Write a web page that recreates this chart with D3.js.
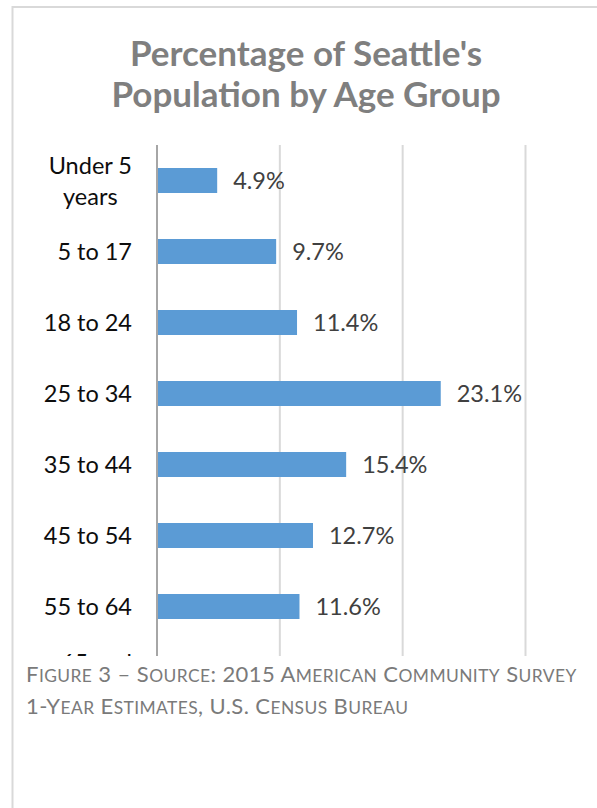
<!DOCTYPE html>
<html>
<head>
<meta charset="utf-8">
<script src="https://cdn.jsdelivr.net/npm/d3@7"></script>
<style>
  html, body { margin: 0; padding: 0; background: #fff; }
  svg { display: block; }
</style>
</head>
<body>
<script>
// Age groups and their share of the city's population (percent)
const categories = ["Under 5 years", "5 to 17", "18 to 24", "25 to 34", "35 to 44", "45 to 54", "55 to 64", "65 and over"];
const values = [4.9, 9.7, 11.4, 23.1, 15.4, 12.7, 11.6, 11.2];
const gridTicks = [0, 10, 20, 30];
const titleLines = ["Percentage of Seattle's", "Population by Age Group"];
const captionLines = ["Figure 3 \u2013 Source: 2015 American Community Survey", "1-Year Estimates, U.S. Census Bureau"];

const W = 597, H = 808;
const FONT = "Lato, 'Open Sans', sans-serif";
const LABEL_SIZE = 23.5;

const svg = d3.select("body").append("svg")
  .attr("width", W).attr("height", H);

// the chart object is cut off where the caption begins
const chartBottom = 656;
svg.append("defs").append("clipPath").attr("id", "chart-clip")
  .append("rect").attr("x", 0).attr("y", 0).attr("width", W).attr("height", chartBottom);

const chart = svg.append("g").attr("clip-path", "url(#chart-clip)");

// chart frame (top edge)
chart.append("line").attr("x1", 12).attr("x2", W).attr("y1", 7).attr("y2", 7)
  .attr("stroke", "#d9d9d9").attr("stroke-width", 2);

// title
chart.append("g").selectAll("text").data(titleLines).join("text")
  .attr("x", 306).attr("y", (d, i) => 66 + i * 41)
  .attr("text-anchor", "middle")
  .attr("font-family", FONT).attr("font-weight", 700).attr("font-size", 35)
  .attr("fill", "#7f7f7f")
  .text(d => d);

const x = d3.scaleLinear().domain([0, 30]).range([157, 525.5]);
const y = d3.scaleBand().domain(categories).range([145, 713])
  .paddingInner(0.648).paddingOuter(0.324);

const plotTop = 145, plotBottom = 748;

// vertical gridlines
chart.append("g").selectAll("line").data(gridTicks.filter(t => t > 0)).join("line")
  .attr("x1", d => x(d)).attr("x2", d => x(d))
  .attr("y1", plotTop).attr("y2", plotBottom)
  .attr("stroke", "#d9d9d9").attr("stroke-width", 2);

// bars
chart.append("g").selectAll("rect").data(values).join("rect")
  .attr("x", x(0))
  .attr("y", (d, i) => y(categories[i]))
  .attr("width", d => x(d) - x(0))
  .attr("height", y.bandwidth())
  .attr("fill", "#5b9bd5");

// category axis line
chart.append("line")
  .attr("x1", x(0)).attr("x2", x(0)).attr("y1", plotTop).attr("y2", plotBottom)
  .attr("stroke", "#a6a6a6").attr("stroke-width", 2);

// value labels (only those that fall inside the visible chart area)
const valueBase = (d, i) => y(categories[i]) + y.bandwidth() / 2 + 8.5;
chart.append("g").selectAll("text")
  .data(values.map((v, i) => ({ v, i })).filter(o => valueBase(o.v, o.i) - 18 < chartBottom))
  .join("text")
  .attr("x", o => x(o.v) + 16)
  .attr("y", o => valueBase(o.v, o.i))
  .attr("font-family", FONT).attr("font-size", LABEL_SIZE)
  .attr("fill", "#404040")
  .text(o => o.v.toFixed(1) + "%");

// category labels, wrapped to a maximum width and right-aligned as a block
const labelRight = 132, maxLabelW = 100, lineGap = 31;
const measure = svg.append("text").attr("font-family", FONT).attr("font-size", LABEL_SIZE);
function textWidth(s) { measure.text(s); return measure.node().getComputedTextLength(); }
function wrap(label) {
  const words = label.split(" ");
  const lines = [];
  let cur = words[0];
  for (let k = 1; k < words.length; k++) {
    const trial = cur + " " + words[k];
    if (textWidth(trial) > maxLabelW) { lines.push(cur); cur = words[k]; }
    else cur = trial;
  }
  lines.push(cur);
  return lines;
}
const labelG = chart.append("g");
categories.forEach(c => {
  const lines = wrap(c);
  const blockW = d3.max(lines, textWidth);
  const cx = labelRight - blockW / 2;
  const cy = y(c) + y.bandwidth() / 2;
  const firstBase = cy + 8.5 - (lines.length - 1) * lineGap / 2;
  lines.forEach((ln, k) => {
    const base = firstBase + k * lineGap;
    if (base - 18 > chartBottom) return; // entirely below the visible chart area
    labelG.append("text")
      .attr("x", cx).attr("y", base)
      .attr("text-anchor", "middle")
      .attr("font-family", FONT).attr("font-size", LABEL_SIZE)
      .attr("fill", "#0d0d0d")
      .text(ln);
  });
});
measure.remove();

// caption in small capitals: capitals at full size, other letters as reduced capitals
const capSize = 22, smallSize = 17.4;
const captionG = svg.append("g");
captionLines.forEach((line, i) => {
  const t = captionG.append("text")
    .attr("x", 26).attr("y", 682 + i * 32)
    .attr("font-family", FONT)
    .attr("letter-spacing", 0.42)
    .attr("fill", "#7a7a7a");
  const runs = [];
  for (const ch of line) {
    const small = ch !== ch.toUpperCase();
    const last = runs[runs.length - 1];
    if (last && last.small === small) last.s += ch;
    else runs.push({ small, s: ch });
  }
  runs.forEach(r => {
    t.append("tspan")
      .attr("font-size", r.small ? smallSize : capSize)
      .text(r.small ? r.s.toUpperCase() : r.s);
  });
});

// left frame edge
svg.append("line").attr("x1", 12.5).attr("x2", 12.5).attr("y1", 6).attr("y2", H)
  .attr("stroke", "#d9d9d9").attr("stroke-width", 2);
</script>
</body>
</html>
